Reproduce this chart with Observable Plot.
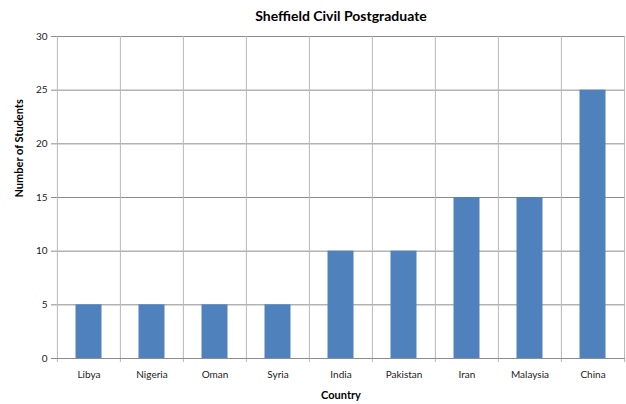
<!DOCTYPE html>
<html><head><meta charset="utf-8">
<script src="https://cdn.jsdelivr.net/npm/d3@7"></script>
<script src="https://cdn.jsdelivr.net/npm/@observablehq/plot@0.6"></script>
<style>body{margin:0;background:#fff;} svg{display:block;}</style>
</head><body><div id="chart"></div>
<script>
const countries = ["Libya","Nigeria","Oman","Syria","India","Pakistan","Iran","Malaysia","China"];
const students = [5,5,5,5,10,10,15,15,25];
const yTicks = [0,5,10,15,20,25,30];
const title = "Sheffield Civil Postgraduate";
const xLabel = "Country";
const yLabel = "Number of Students";

const data = countries.map((c,i)=>({country:c, value:students[i]}));
const W = 626, H = 404, ML = 56, MR = 1, MT = 36, MB = 46;
const bw = (W - ML - MR) / countries.length;
const font = "Lato, 'Open Sans', sans-serif";

const chart = Plot.plot({
  width: W, height: H,
  marginLeft: ML, marginRight: MR, marginTop: MT, marginBottom: MB,
  style: {fontFamily: font, fontSize: "10px", color: "#222", background: "#fff"},
  x: {domain: countries, padding: 0, label: null},
  y: {domain: [0,30], label: null},
  marks: [
    Plot.ruleY(yTicks.filter(d=>d>0), {stroke: "#8c8c8c", strokeWidth: 1}),
    Plot.ruleX(countries, {x: d=>d, y1: 30, y2: 0, dx: -bw/2, insetBottom: -4, stroke: "#b8b8b8"}),
    Plot.ruleX([countries[countries.length-1]], {x: d=>d, y1: 30, y2: 0, dx: bw/2, insetBottom: -4, stroke: "#b8b8b8"}),
    Plot.barY(data, {x: "country", y: "value", fill: "#4f81bd", insetLeft: 18.5, insetRight: 18.5}),
    Plot.ruleY([0], {stroke: "#8c8c8c"}),
    Plot.axisY({ticks: yTicks, tickSize: 5, tickPadding: 4, stroke: "#8c8c8c", fontSize: 10, label: null}),
    Plot.axisX({tickSize: 0, tickPadding: 12, fontSize: 10, label: null}),
    Plot.text([title], {frameAnchor: "top", dy: -25, fontWeight: "bold", fontSize: 14, fill: "#000"}),
    Plot.text([xLabel], {frameAnchor: "bottom", dy: 40, fontWeight: "bold", fontSize: 11, fill: "#000"}),
    Plot.text([yLabel], {frameAnchor: "left", dx: -37, rotate: -90, fontWeight: "bold", fontSize: 11, fill: "#000"})
  ]
});
document.getElementById("chart").append(chart);
</script></body></html>
